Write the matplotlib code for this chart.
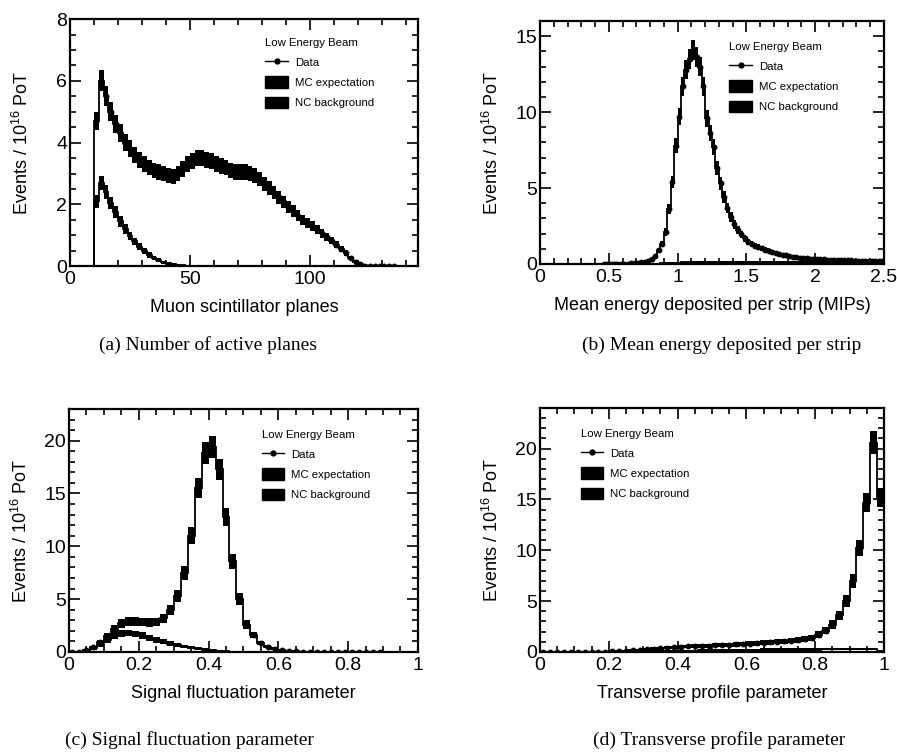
import numpy as np
import matplotlib
matplotlib.use("Agg")
import matplotlib.pyplot as plt
from matplotlib.lines import Line2D
from matplotlib.patches import Patch
from matplotlib.ticker import MultipleLocator, FormatStrFormatter

plt.rcParams["font.family"] = ["Liberation Sans", "DejaVu Sans"]
plt.rcParams["mathtext.default"] = "regular"

# (a) number of active planes, bins of 2 planes starting at 10
planes_start, planes_width = 10, 2
planes_mc = [4.7, 6.0, 5.5, 5.0, 4.6, 4.3, 4.0, 3.8, 3.6, 3.45,
             3.3, 3.2, 3.1, 3.05, 3.0, 2.95, 2.9, 3.0, 3.15, 3.3,
             3.4, 3.5, 3.5, 3.45, 3.4, 3.3, 3.25, 3.2, 3.1, 3.05,
             3.05, 3.05, 3.0, 2.95, 2.82, 2.67, 2.52, 2.38, 2.23, 2.08,
             1.93, 1.78, 1.63, 1.5, 1.4, 1.29, 1.18, 1.07, 0.95, 0.83,
             0.7, 0.56, 0.42, 0.27, 0.15, 0.07, 0.02, 0.0, 0.0, 0.0,
             0.0, 0.0, 0.0]
planes_nc = [2.1, 2.7, 2.4, 2.05, 1.75, 1.45, 1.2, 0.98, 0.8, 0.63,
             0.48, 0.36, 0.26, 0.19, 0.13, 0.09, 0.06, 0.04, 0.025, 0.015,
             0.01, 0, 0, 0, 0, 0, 0, 0, 0, 0,
             0, 0, 0, 0, 0, 0, 0, 0, 0, 0,
             0, 0, 0, 0, 0, 0, 0, 0, 0, 0,
             0, 0, 0, 0, 0, 0, 0, 0, 0, 0,
             0, 0, 0]

# (b) mean energy per strip, bins of 0.025 MIP starting at 0
mip_start, mip_width = 0.0, 0.025
mip_mc = [0] * 20 + [
    0.01, 0.01, 0.01, 0.02, 0.02, 0.03, 0.04, 0.05, 0.07, 0.1, 0.15, 0.22,
    0.3, 0.5, 0.9, 1.3,
    2.1, 3.6, 5.4, 7.8, 9.7, 11.7, 12.8, 13.5, 14.1, 13.6, 13.0, 11.7,
    9.6, 8.6, 7.7, 6.3, 5.3, 4.4, 3.7, 3.1, 2.6, 2.25, 1.95, 1.7,
    1.45, 1.3, 1.2, 1.1, 1.02, 0.94, 0.86, 0.79, 0.72, 0.66, 0.61, 0.56,
    0.52, 0.48, 0.45, 0.42, 0.4, 0.38, 0.36, 0.34, 0.32, 0.31, 0.3, 0.29,
    0.28, 0.27, 0.26, 0.25, 0.24, 0.23, 0.23, 0.22, 0.21, 0.21, 0.2, 0.2,
    0.19, 0.19, 0.18, 0.18]
mip_nc = [0] * 32 + [
    0.01, 0.02, 0.03, 0.04, 0.05, 0.06, 0.07, 0.08, 0.09, 0.1, 0.1, 0.11,
    0.11, 0.12, 0.12, 0.12, 0.12, 0.12, 0.12, 0.12, 0.12, 0.12, 0.12, 0.12,
    0.12, 0.12, 0.12, 0.12, 0.12, 0.12, 0.12, 0.12, 0.12, 0.12, 0.12, 0.12,
    0.12, 0.12, 0.12, 0.12, 0.12, 0.12, 0.12, 0.12, 0.12, 0.12, 0.12, 0.12,
    0.12, 0.12, 0.12, 0.12, 0.12, 0.12, 0.12, 0.12, 0.12, 0.12, 0.12, 0.12,
    0.12, 0.12, 0.12, 0.12, 0.12, 0.12, 0.12, 0.12]

# (c) signal fluctuation parameter, bins of 0.02
sig_start, sig_width = 0.0, 0.02
sig_mc = [0.0, 0.03, 0.15, 0.45, 0.9, 1.5, 2.2, 2.7, 2.9, 2.9,
          2.85, 2.8, 2.85, 3.2, 4.0, 5.3, 7.5, 11.0, 15.5, 18.8,
          19.4, 17.3, 12.8, 8.6, 5.0, 2.6, 1.6, 0.85, 0.5, 0.3,
          0.18, 0.1, 0.06, 0.04, 0.02, 0.01, 0, 0, 0, 0,
          0, 0, 0, 0, 0, 0, 0, 0, 0, 0]
sig_nc = [0.0, 0.02, 0.1, 0.35, 0.7, 1.1, 1.5, 1.75, 1.8, 1.7,
          1.55, 1.35, 1.15, 0.95, 0.8, 0.65, 0.5, 0.4, 0.3, 0.22,
          0.16, 0.1, 0.07, 0.04, 0.02, 0.01, 0, 0, 0, 0,
          0, 0, 0, 0, 0, 0, 0, 0, 0, 0,
          0, 0, 0, 0, 0, 0, 0, 0, 0, 0]

# (d) transverse profile parameter, bins of 0.02
tp_start, tp_width = 0.0, 0.02
tp_mc = [0, 0, 0, 0, 0, 0, 0, 0, 0.02, 0.04,
         0.07, 0.1, 0.14, 0.18, 0.22, 0.27, 0.32, 0.37, 0.42, 0.46,
         0.5, 0.54, 0.57, 0.6, 0.63, 0.66, 0.69, 0.72, 0.75, 0.78,
         0.82, 0.86, 0.9, 0.95, 1.0, 1.05, 1.1, 1.18, 1.27, 1.4,
         1.7, 2.1, 2.7, 3.6, 5.0, 7.0, 10.2, 14.7, 20.6, 15.2]
tp_nc = [0, 0, 0, 0, 0, 0, 0, 0, 0, 0,
         0.02, 0.03, 0.04, 0.05, 0.06, 0.07, 0.08, 0.09, 0.1, 0.11,
         0.12, 0.13, 0.14, 0.15, 0.16, 0.17, 0.18, 0.19, 0.2, 0.21,
         0.22, 0.22, 0.23, 0.24, 0.24, 0.25, 0.25, 0.26, 0.26, 0.27,
         0.27, 0.28, 0.28, 0.29, 0.29, 0.3, 0.3, 0.3, 0.3, 0.1]

legend_labels = ["Data", "MC expectation", "NC background"]
ylabel = "Events / 10$^{16}$ PoT"

FIG_W, FIG_H = 897, 754


def draw_panel(ax, start, width, mc, nc, err_scale, data_lo, data_hi):
    mc = np.asarray(mc, dtype=float)
    nc = np.asarray(nc, dtype=float)
    edges = start + width * np.arange(len(mc) + 1)
    centers = edges[:-1] + width / 2
    for vals in (nc, mc):
        err = err_scale * np.sqrt(vals)
        ax.bar(centers, 2 * err, bottom=vals - err, width=width,
               color="k", linewidth=0)
        ax.stairs(vals, edges, color="k", lw=1.3)
    sel = (centers > data_lo) & (centers < data_hi)
    ax.plot(centers[sel], mc[sel], "o", color="k", ms=3.2)


def style_axes(ax, xlabel, xmaj, xmin, ymaj, ymin, leg_pos):
    ax.xaxis.set_major_locator(MultipleLocator(xmaj))
    ax.xaxis.set_minor_locator(MultipleLocator(xmin))
    ax.yaxis.set_major_locator(MultipleLocator(ymaj))
    ax.yaxis.set_minor_locator(MultipleLocator(ymin))
    ax.xaxis.set_major_formatter(FormatStrFormatter("%g"))
    ax.yaxis.set_major_formatter(FormatStrFormatter("%g"))
    ax.tick_params(which="both", direction="in", top=True, right=True,
                   width=1.2, labelsize=14)
    ax.tick_params(which="major", length=8)
    ax.tick_params(which="minor", length=4)
    ax.tick_params(axis="y", pad=2)
    for sp in ax.spines.values():
        sp.set_linewidth(1.6)
    ax.set_xlabel(xlabel, fontsize=13, labelpad=8)
    ax.set_ylabel(ylabel, fontsize=13)
    # fixed pixel offset of the y title from the frame, as in the original
    w_px = ax.get_position().width * FIG_W
    ax.yaxis.set_label_coords(-38 / w_px, 0.5)
    handles = [Line2D([], [], color="k", marker="o", ms=3.5, lw=1),
               Patch(facecolor="k", edgecolor="k"),
               Patch(facecolor="k", edgecolor="k")]
    ax.legend(handles, legend_labels, title="Low Energy Beam",
              loc="upper left", bbox_to_anchor=leg_pos, frameon=False,
              fontsize=8.2, title_fontsize=8.2, alignment="left",
              handlelength=2.0, handleheight=1.2, labelspacing=0.75,
              handletextpad=0.6, borderpad=0, borderaxespad=0)


fig = plt.figure(figsize=(FIG_W / 100, FIG_H / 100), dpi=100)

ax_a = fig.add_axes([0.078, 0.647, 0.388, 0.3276])
draw_panel(ax_a, planes_start, planes_width, planes_mc, planes_nc, 0.14, 9, 137)
ax_a.set_xlim(0, 145)
ax_a.set_ylim(0, 8)
style_axes(ax_a, "Muon scintillator planes", 50, 10, 2, 0.5, (0.561, 0.925))

ax_b = fig.add_axes([0.602, 0.6499, 0.3835, 0.3223])
draw_panel(ax_b, mip_start, mip_width, mip_mc, mip_nc, 0.18, 0.45, 2.5)
ax_b.set_xlim(0, 2.5)
ax_b.set_ylim(0, 16)
style_axes(ax_b, "Mean energy deposited per strip (MIPs)", 0.5, 0.1, 5, 1,
           (0.55, 0.915))

ax_c = fig.add_axes([0.0769, 0.1353, 0.389, 0.3223])
draw_panel(ax_c, sig_start, sig_width, sig_mc, sig_nc, 0.24, 0.0, 0.9)
ax_c.set_xlim(0, 1)
ax_c.set_ylim(0, 23)
style_axes(ax_c, "Signal fluctuation parameter", 0.2, 0.05, 5, 1,
           (0.552, 0.915))

ax_d = fig.add_axes([0.602, 0.1353, 0.3835, 0.3236])
draw_panel(ax_d, tp_start, tp_width, tp_mc, tp_nc, 0.25, 0.0, 1.0)
ax_d.set_xlim(0, 1)
ax_d.set_ylim(0, 24)
style_axes(ax_d, "Transverse profile parameter", 0.2, 0.05, 5, 1,
           (0.118, 0.915))

captions = ["(a) Number of active planes",
            "(b) Mean energy deposited per strip",
            "(c) Signal fluctuation parameter",
            "(d) Transverse profile parameter"]
caption_pos = [(208, 345), (722, 345), (189, 740), (719, 740)]
for text, (px, py) in zip(captions, caption_pos):
    fig.text(px / FIG_W, 1 - py / FIG_H, text, ha="center", va="center",
             family="Liberation Serif", fontsize=14)

fig.savefig("out.png", dpi=100)
